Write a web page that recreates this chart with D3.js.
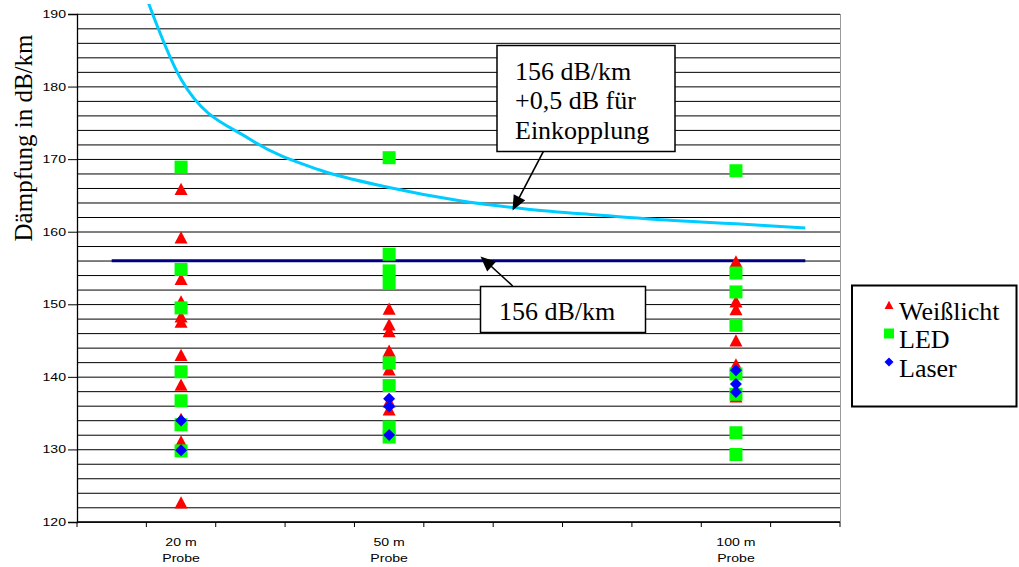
<!DOCTYPE html>
<html>
<head>
<meta charset="utf-8">
<script src="https://cdn.jsdelivr.net/npm/d3@7"></script>
<style>
  html, body { margin: 0; padding: 0; background: #fff; }
  svg { display: block; }
</style>
</head>
<body>
<svg id="chart" width="1019" height="567"></svg>
<script>
// ---------- data ----------
const categories = ["10 m", "20 m", "30 m", "40 m", "50 m", "60 m", "70 m", "80 m", "90 m", "100 m", "110 m"];
const tickLabels = ["", "20 m\nProbe", "", "", "50 m\nProbe", "", "", "", "", "100 m\nProbe", ""];
const curveValues = [206, 181, 172.7, 168.5, 166.1, 164.3, 163.1, 162.3, 161.6, 161.1, 160.5];
const limitValues = [156, 156, 156, 156, 156, 156, 156, 156, 156, 156, 156];
const yTicks = [120, 130, 140, 150, 160, 170, 180, 190];

const sampleCats = ["20 m", "50 m", "100 m"];
const weisslichtValues = [
  [165.9, 159.2, 153.5, 150.4, 148.3, 147.6, 143.0, 138.9, 134.2, 131.1, 122.7],
  [149.4, 147.2, 146.3, 143.6, 141.0, 136.6, 135.5],
  [155.9, 150.4, 149.3, 145.0, 141.7, 137.3]
];
const ledValues = [
  [168.9, 154.8, 149.5, 140.7, 136.7, 133.4, 129.8],
  [170.2, 156.9, 154.6, 153.0, 141.9, 138.8, 133.1, 131.7],
  [168.4, 154.3, 151.7, 147.1, 140.4, 137.6, 132.3, 129.3]
];
const laserValues = [
  [134.0, 129.9],
  [137.0, 135.9, 132.0],
  [140.9, 139.0, 137.9]
];
const seriesNames = ["Weißlicht", "LED", "Laser"];
const seriesColors = ["#ff0000", "#00ff00", "#0000ff"];

const noteUpper = ["156 dB/km", "+0,5 dB für", "Einkopplung"];
const noteLower = ["156 dB/km"];
const yTitle = "Dämpfung in dB/km";

// ---------- layout ----------
const svg = d3.select("#chart");
const plot = { left: 77, right: 840, top: 14, bottom: 522 };

const x = d3.scaleBand().domain(categories).range([plot.left, plot.right]).padding(0);
const cx = c => x(c) + x.bandwidth() / 2;
const y = d3.scaleLinear().domain([120, 190]).range([plot.bottom, plot.top]);

const serif = "'Liberation Serif', 'Times New Roman', serif";
const sans = "'Liberation Sans', Arial, sans-serif";

// gridlines every 2 units
svg.append("g").selectAll("line")
  .data(d3.range(120, 191, 2))
  .join("line")
  .attr("x1", plot.left).attr("x2", plot.right)
  .attr("y1", d => y(d) + 0.3).attr("y2", d => y(d) + 0.3)
  .attr("stroke", "#000").attr("stroke-width", 1);

// right border of plot area
svg.append("line")
  .attr("x1", plot.right + 0.5).attr("x2", plot.right + 0.5)
  .attr("y1", plot.top).attr("y2", plot.bottom)
  .attr("stroke", "#999").attr("stroke-width", 1);

// y axis
const yAxis = svg.append("g")
  .attr("transform", `translate(${plot.left},0)`)
  .call(d3.axisLeft(y).tickValues(yTicks).tickSize(9).tickPadding(2).tickFormat(d3.format("d")));
yAxis.select(".domain").attr("stroke", "#000").attr("stroke-width", 1.3);
yAxis.selectAll(".tick line").attr("stroke", "#000");
yAxis.selectAll(".tick text")
  .attr("font-family", sans).attr("font-size", 11).attr("fill", "#000")
  .each(function () {
    const w = this.getComputedTextLength();
    d3.select(this).attr("textLength", w * 1.28).attr("lengthAdjust", "spacingAndGlyphs");
  });

// x axis
const xAxisG = svg.append("g");
xAxisG.append("line")
  .attr("x1", plot.left).attr("x2", plot.right)
  .attr("y1", plot.bottom).attr("y2", plot.bottom)
  .attr("stroke", "#000").attr("stroke-width", 1.3);
const boundaries = categories.map(c => x(c)).concat([x.range()[1]]);
xAxisG.selectAll("line.tk")
  .data(boundaries)
  .join("line").attr("class", "tk")
  .attr("x1", d => d).attr("x2", d => d)
  .attr("y1", plot.bottom).attr("y2", plot.bottom + 5)
  .attr("stroke", "#000");
categories.forEach((c, i) => {
  if (!tickLabels[i]) return;
  const lines = tickLabels[i].split("\n");
  lines.forEach((t, j) => {
    xAxisG.append("text")
      .attr("x", cx(c)).attr("y", 545.5 + j * 16.5)
      .attr("text-anchor", "middle")
      .attr("font-family", sans).attr("font-size", 11)
      .text(t)
      .each(function () {
        const w = this.getComputedTextLength();
        d3.select(this).attr("textLength", w * 1.28).attr("lengthAdjust", "spacingAndGlyphs");
      });
  });
});

// y title
svg.append("text")
  .attr("transform", `translate(32,138) rotate(-90)`)
  .attr("text-anchor", "middle")
  .attr("font-family", serif).attr("font-size", 25)
  .text(yTitle);

// clip for lines
svg.append("clipPath").attr("id", "clip")
  .append("rect").attr("x", plot.left).attr("y", 4)
  .attr("width", plot.right - plot.left).attr("height", plot.bottom - 4);

const lineSmooth = d3.line().x((d, i) => cx(categories[i])).y(d => y(d)).curve(d3.curveCardinal.tension(0));
const lineStraight = d3.line().x((d, i) => cx(categories[i])).y(d => y(d));

svg.append("path")
  .attr("clip-path", "url(#clip)")
  .attr("d", lineStraight(limitValues))
  .attr("fill", "none").attr("stroke", "#000080").attr("stroke-width", 3);

svg.append("path")
  .attr("clip-path", "url(#clip)")
  .attr("d", lineSmooth(curveValues))
  .attr("fill", "none").attr("stroke", "#00ccff").attr("stroke-width", 3);

// markers
const markerPaths = [
  s => `M0,${-s * 0.5}L${s * 0.52},${s * 0.48}L${-s * 0.52},${s * 0.48}Z`,
  s => `M${-s / 2},${-s / 2}H${s / 2}V${s / 2}H${-s / 2}Z`,
  s => `M0,${-s / 2}L${s / 2},0L0,${s / 2}L${-s / 2},0Z`
];
const markerSizes = [12.5, 13, 12];
const allSeries = [weisslichtValues, ledValues, laserValues];
allSeries.forEach((vals, si) => {
  const pts = [];
  vals.forEach((arr, ci) => arr.forEach(v => pts.push({ c: sampleCats[ci], v })));
  svg.append("g").selectAll("path")
    .data(pts)
    .join("path")
    .attr("transform", d => `translate(${cx(d.c)},${y(d.v)})`)
    .attr("d", markerPaths[si](markerSizes[si]))
    .attr("fill", seriesColors[si]);
});

// annotations
svg.append("defs").append("marker")
  .attr("id", "arrow").attr("viewBox", "0 0 10 10")
  .attr("refX", 10).attr("refY", 5)
  .attr("markerWidth", 9).attr("markerHeight", 9)
  .attr("markerUnits", "userSpaceOnUse")
  .attr("orient", "auto")
  .append("path").attr("d", "M0,0L10,5L0,10Z").attr("fill", "#000");

function arrow(x1, y1, x2, y2) {
  const ang = Math.atan2(y2 - y1, x2 - x1);
  svg.append("line")
    .attr("x1", x1).attr("y1", y1)
    .attr("x2", x2 - Math.cos(ang) * 10).attr("y2", y2 - Math.sin(ang) * 10)
    .attr("stroke", "#000").attr("stroke-width", 1.6);
  const hl = 15, hw = 6.5;
  const bx = x2 - Math.cos(ang) * hl, by = y2 - Math.sin(ang) * hl;
  const px = -Math.sin(ang) * hw, py = Math.cos(ang) * hw;
  svg.append("path")
    .attr("d", `M${x2},${y2}L${bx + px},${by + py}L${bx - px},${by - py}Z`)
    .attr("fill", "#000");
}

arrow(543.3, 151.7, 512.5, 210.5);
arrow(512.7, 286, 480.5, 256.5);

// upper note box
svg.append("rect").attr("x", 497).attr("y", 45.5).attr("width", 178).attr("height", 106)
  .attr("fill", "#fff").attr("stroke", "#000").attr("stroke-width", 1.5);
noteUpper.forEach((t, i) => {
  svg.append("text").attr("x", 515).attr("y", 79.5 + i * 29.5)
    .attr("font-family", serif).attr("font-size", 26).text(t);
});

// lower note box
svg.append("rect").attr("x", 480.5).attr("y", 286.5).attr("width", 165).attr("height", 46)
  .attr("fill", "#fff").attr("stroke", "#000").attr("stroke-width", 1.5);
noteLower.forEach((t, i) => {
  svg.append("text").attr("x", 499).attr("y", 320 + i * 29.5)
    .attr("font-family", serif).attr("font-size", 26).text(t);
});

// legend
svg.append("rect").attr("x", 852).attr("y", 285.5).attr("width", 164.5).attr("height", 121)
  .attr("fill", "#fff").attr("stroke", "#000").attr("stroke-width", 2);
const legendMarkerSizes = [8.5, 10, 9];
seriesNames.forEach((name, i) => {
  const rowY = 319.5 + i * 28.5;
  svg.append("path")
    .attr("transform", `translate(889,${rowY - 14.5})`)
    .attr("d", markerPaths[i](legendMarkerSizes[i]))
    .attr("fill", seriesColors[i]);
  svg.append("text").attr("x", 899).attr("y", rowY)
    .attr("font-family", serif).attr("font-size", 26).text(name);
});
</script>
</body>
</html>
